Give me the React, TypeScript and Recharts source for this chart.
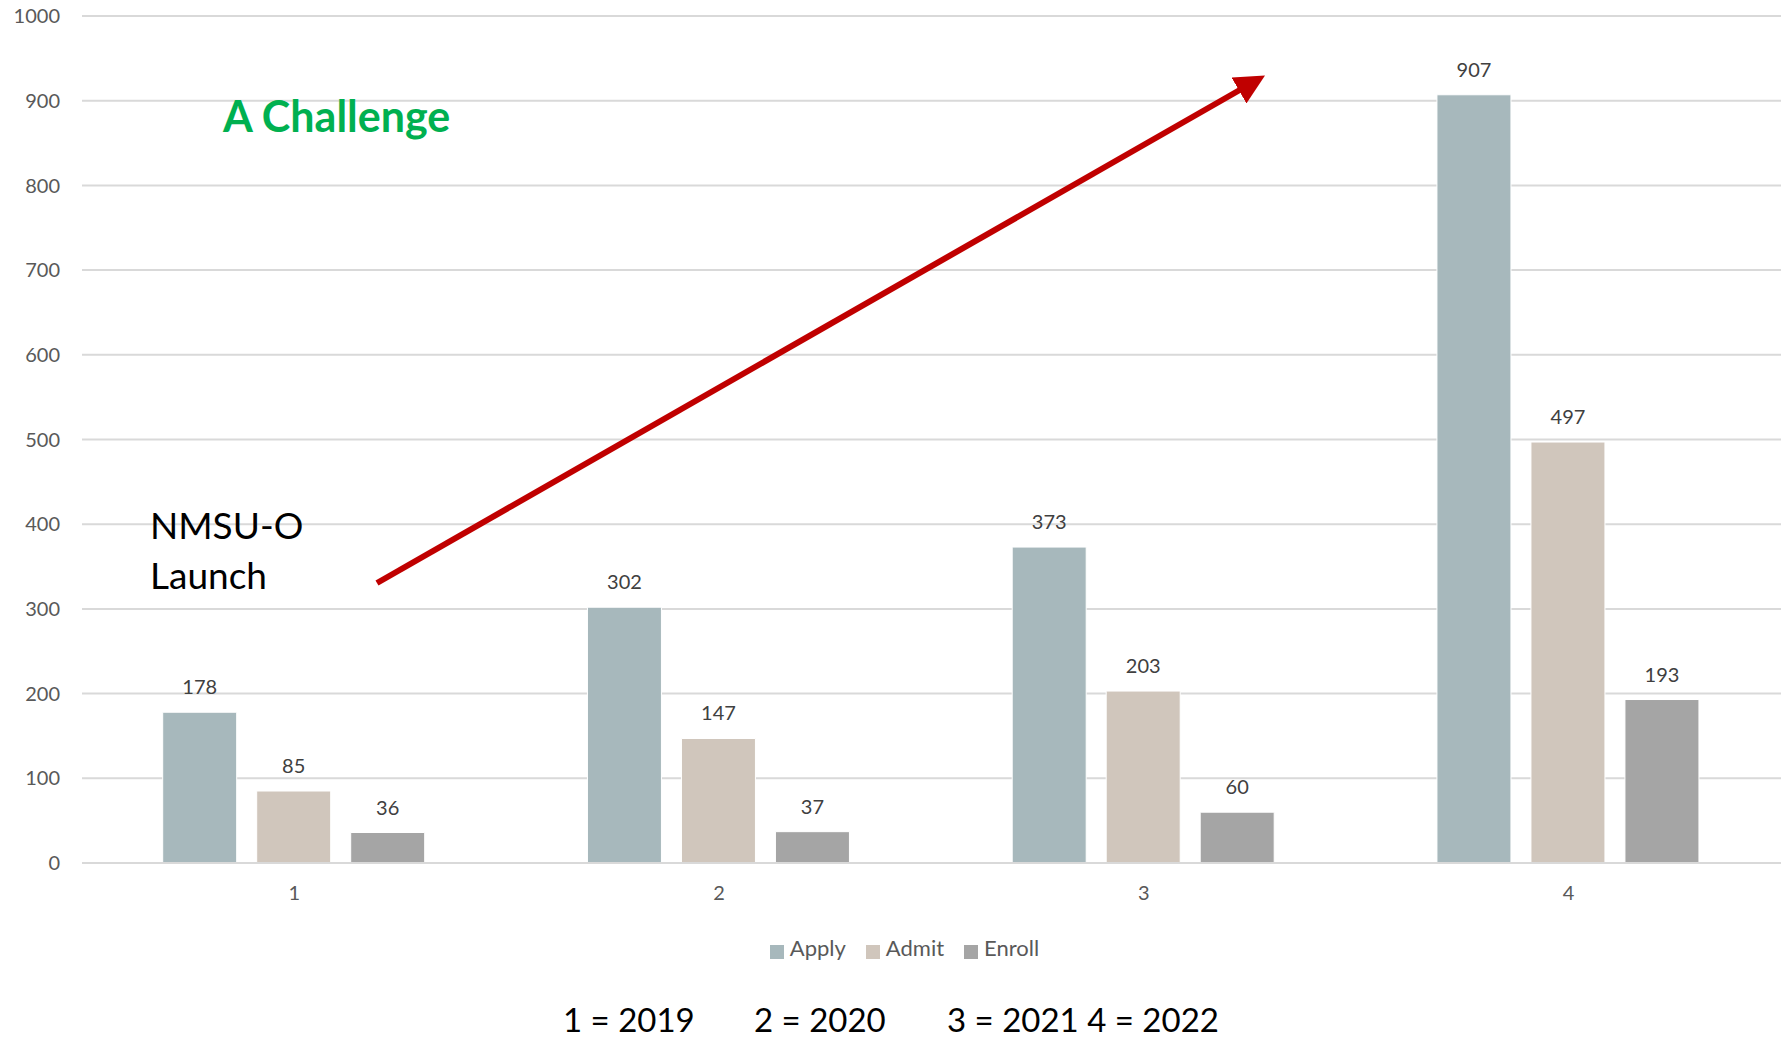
import { Bar, BarChart, CartesianGrid, LabelList, Legend, XAxis, YAxis } from "recharts";

const years = ["1", "2", "3", "4"];
const apply = [178, 302, 373, 907];
const admit = [85, 147, 203, 497];
const enroll = [36, 37, 60, 193];
const yTicks = [0, 100, 200, 300, 400, 500, 600, 700, 800, 900, 1000];
const seriesOrder = ["Apply", "Admit", "Enroll"];

const data = years.map((year, i) => ({
  year,
  apply: apply[i],
  admit: admit[i],
  enroll: enroll[i],
}));

const font = "Lato, 'Open Sans', sans-serif";
const labelStyle = { fill: "#404040", fontSize: 20, fontFamily: font };

export default function App() {
  return (
    <div
      style={{
        position: "absolute",
        left: 0,
        top: 0,
        width: 1785,
        height: 1037,
        background: "#fff",
        fontFamily: font,
      }}
    >
      <BarChart
        width={1785}
        height={1037}
        data={data}
        margin={{ top: 16, right: 4, bottom: 124, left: 0 }}
        barCategoryGap="19%"
        barGap={20}
      >
        <CartesianGrid vertical={false} stroke="#d9d9d9" strokeWidth={2} />
        <XAxis
          dataKey="year"
          height={50}
          axisLine={{ stroke: "#d9d9d9", strokeWidth: 2 }}
          tickLine={false}
          tickSize={0}
          tickMargin={23}
          tick={{ fill: "#595959", fontSize: 20, fontFamily: font }}
        />
        <YAxis
          width={82}
          domain={[0, 1000]}
          ticks={yTicks}
          axisLine={false}
          tickLine={false}
          tickSize={0}
          tickMargin={22}
          tick={{ fill: "#595959", fontSize: 20, fontFamily: font }}
        />
        <Legend
          verticalAlign="middle"
          align="center"
          iconType="square"
          iconSize={14}
          itemSorter={(item: any) => seriesOrder.indexOf(item.value)}
          wrapperStyle={{ top: 934, left: 22, width: 1785 }}
          formatter={(value) => (
            <span style={{ color: "#595959", fontSize: 22, fontFamily: font, marginLeft: 2, marginRight: 10 }}>
              {value}
            </span>
          )}
        />
        <Bar dataKey="apply" name="Apply" fill="#a7b8bc" stroke="#fff" isAnimationActive={false}>
          <LabelList dataKey="apply" position="top" offset={18} style={labelStyle} />
        </Bar>
        <Bar dataKey="admit" name="Admit" fill="#d0c6bc" stroke="#fff" isAnimationActive={false}>
          <LabelList dataKey="admit" position="top" offset={18} style={labelStyle} />
        </Bar>
        <Bar dataKey="enroll" name="Enroll" fill="#a5a5a5" stroke="#fff" isAnimationActive={false}>
          <LabelList dataKey="enroll" position="top" offset={18} style={labelStyle} />
        </Bar>
      </BarChart>

      {/* annotations */}
      <svg
        width={1785}
        height={1037}
        style={{ position: "absolute", left: 0, top: 0, pointerEvents: "none" }}
      >
        <defs>
          <marker
            id="head"
            viewBox="0 0 10 10"
            refX="5"
            refY="5"
            markerWidth="5"
            markerHeight="5"
            orient="auto"
          >
            <path d="M0,0 L10,5 L0,10 Z" fill="#c00000" />
          </marker>
        </defs>
        <line
          x1={377}
          y1={583}
          x2={1252}
          y2={83}
          stroke="#c00000"
          strokeWidth={6}
          markerEnd="url(#head)"
        />
      </svg>
      <div
        style={{
          position: "absolute",
          left: 223,
          top: 90,
          color: "#00b050",
          fontWeight: 700,
          fontSize: 43,
          lineHeight: "52px",
        }}
      >
        A Challenge
      </div>
      <div
        style={{
          position: "absolute",
          left: 150,
          top: 500,
          color: "#000",
          fontSize: 37,
          lineHeight: "50px",
        }}
      >
        NMSU-O
        <br />
        Launch
      </div>
      <div
        style={{
          position: "absolute",
          top: 997,
          left: 563,
          color: "#000",
          fontSize: 33,
          lineHeight: "44px",
          whiteSpace: "pre",
        }}
      >
        <span style={{ position: "absolute", left: 0 }}>1 = 2019</span>
        <span style={{ position: "absolute", left: 191 }}>2 = 2020</span>
        <span style={{ position: "absolute", left: 384 }}>3 = 2021 4 = 2022</span>
      </div>
    </div>
  );
}
